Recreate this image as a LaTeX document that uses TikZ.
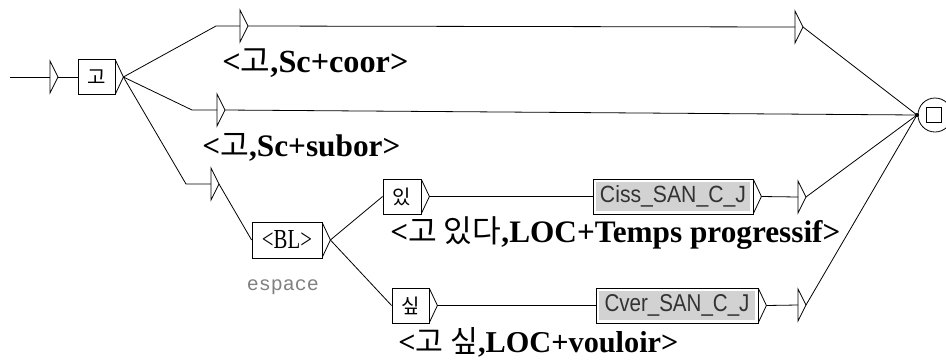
\documentclass[tikz,border=0pt]{standalone}
\usepackage{fontspec}
\usepackage{graphicx}
\setmainfont{Liberation Serif}
\setsansfont{Liberation Sans}
\setmonofont{Liberation Mono}
\newfontfamily\kr{Noto Sans CJK KR}
\newcommand{\fitw}[2]{\resizebox{#1}{!}{#2}}
\newcommand{\fitwh}[3]{\resizebox{#1}{#2}{#3}}
\definecolor{boxgray}{HTML}{D2D2D2}
\begin{document}
\begin{tikzpicture}[x=1pt,y=-1pt,line width=0.8pt,
  box/.style={draw,inner sep=0,minimum height=35pt},
  graybox/.style={box,path picture={\fill[boxgray]
     ([shift={(3pt,-3pt)}]path picture bounding box.north west) rectangle
     ([shift={(-3pt,3pt)}]path picture bounding box.south east);}},
  lab/.style={anchor=west,inner sep=0,font=\bfseries\fontsize{24}{24}\selectfont},
  krbox/.style={font=\kr\fontsize{20}{20}\selectfont},
  tri/.pic={\draw[line join=miter] (0,-16)--(0,16)--(8,0)--cycle;},
  otri/.pic={\draw (0,-17)--(8,0)--(0,17);}
]
\useasboundingbox (0,0) rectangle (946,360);

% start
\coordinate (s0) at (10,77);
\coordinate (t0) at (50,77);
\pic at (t0) {tri};
\coordinate (t0a) at (58,77);
\node[box,krbox,minimum width=37pt] (go) at (96.5,77) {고};
\pic at (go.east) {otri};
\coordinate (g1) at ([xshift=8pt]go.east);
\draw (s0) -- (t0);
\draw (t0a) -- (go.west);

% final state
\coordinate (F) at (917,115);
\node[circle,draw,minimum size=34pt,inner sep=0] (fin) at (935,115) {};
\node[draw,minimum size=15pt,inner sep=0] (sq) at (934,115) {};
\fill (F) circle (2);

% path 1
\coordinate (b1) at (216,26);
\coordinate (t1) at (240,26);
\pic at (t1) {tri};
\coordinate (t1a) at (248,26);
\coordinate (t2) at (795,27);
\pic at (t2) {tri};
\coordinate (t2a) at (803,27);
\draw (g1) -- (b1) -- (t1);
\draw (t1a) -- (t2);
\draw (t2a) -- (F);
\node[lab] (l1) at (222,63) {\fitw{186pt}{<{\kr\mdseries 고},Sc+coor>}};

% path 2
\coordinate (b2) at (192,110);
\coordinate (t3) at (217,110);
\pic at (t3) {tri};
\coordinate (t3a) at (225,110);
\draw (g1) -- (b2) -- (t3);
\draw (t3a) -- (F);
\node[lab] (l2) at (202,147) {\fitw{198pt}{<{\kr\mdseries 고},Sc+subor>}};

% path 3
\coordinate (b3) at (186,184);
\coordinate (t4) at (211,184);
\pic at (t4) {tri};
\coordinate (t4a) at (219,184);
\draw (g1) -- (b3) -- (t4);
\node[box,minimum width=70pt,minimum height=36pt] (bl) at (287,240) {\fitwh{50pt}{18pt}{<BL>}};
\pic at (bl.east) {otri};
\coordinate (bl1) at ([xshift=8pt]bl.east);
\draw (t4a) -- (bl.west);
\node[text=gray,font=\ttfamily\fontsize{20}{20}\selectfont] (esp) at (283,287) {espace};

% upper branch
\node[box,krbox,minimum width=38pt] (iss) at (402,196.5) {있};
\pic at (iss.east) {otri};
\coordinate (iss1) at ([xshift=8pt]iss.east);
\node[graybox,minimum width=160pt] (ciss) at (673,196.5) {\fitwh{146pt}{17pt}{\sffamily\color{black!80}Ciss\_SAN\_C\_J}};
\pic at (ciss.east) {otri};
\coordinate (ciss1) at ([xshift=8pt]ciss.east);
\coordinate (t5) at (798,197);
\pic at (t5) {tri};
\coordinate (t5a) at (806,197);
\draw (bl1) -- (iss.west);
\draw (iss1) -- (ciss.west);
\draw (ciss1) -- (t5);
\draw (t5a) -- (F);
\node[lab] (l3) at (390,233) {\fitw{450pt}{<{\kr\mdseries 고 있다},LOC+Temps progressif>}};

% lower branch
\node[box,krbox,minimum width=37pt] (sip) at (410.5,305.5) {싶};
\pic at (sip.east) {otri};
\coordinate (sip1) at ([xshift=8pt]sip.east);
\node[graybox,minimum width=162pt] (cver) at (677,305.5) {\fitwh{145pt}{17pt}{\sffamily\color{black!80}Cver\_SAN\_C\_J}};
\pic at (cver.east) {otri};
\coordinate (cver1) at ([xshift=8pt]cver.east);
\coordinate (t6) at (798,305);
\pic at (t6) {tri};
\coordinate (t6a) at (806,305);
\draw (bl1) -- (sip.west);
\draw (sip1) -- (cver.west);
\draw (cver1) -- (t6);
\draw (t6a) -- (F);
\node[lab] (l4) at (398,342) {\fitw{280pt}{<{\kr\mdseries 고 싶},LOC+vouloir>}};
\end{tikzpicture}
\end{document}
